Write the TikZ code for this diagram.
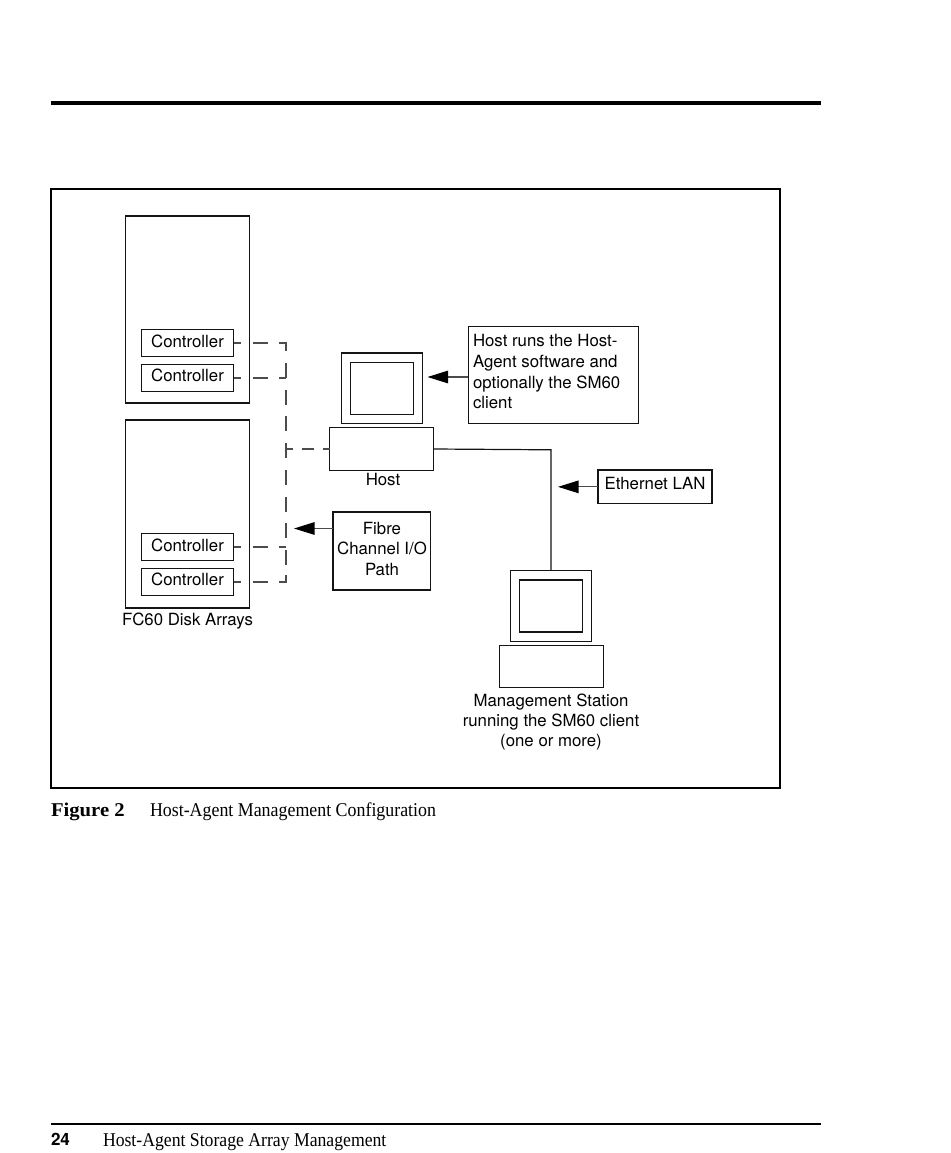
\documentclass[tikz,border=0pt]{standalone}
\usepackage{fontspec}
\usepackage{graphicx}
\setmainfont{TeX Gyre Heros}
\newfontfamily\capfont{Liberation Serif}
\usetikzlibrary{arrows.meta}
\definecolor{ink}{gray}{0.08}
\definecolor{softink}{gray}{0.3}
\tikzset{
  x=1pt,y=-1pt,
  boxed/.style={draw=ink,line width=1.2pt,fill=none,inner sep=0pt,outer sep=0pt,font=\fontsize{16.8}{20.5}\selectfont},
  voff/.style={text height=12pt,text depth=#1},
  lbl/.style={inner sep=0pt,outer sep=0pt,anchor=base,font=\fontsize{16.8}{20.5}\selectfont},
  ctrlbox/.style={boxed,minimum width=92.4pt,minimum height=27.5pt},
  arraybox/.style={boxed,minimum width=124pt},
  monouter/.style={boxed,minimum width=81pt,minimum height=70.6pt},
  moninner/.style={boxed,minimum width=63.2pt,minimum height=52pt},
  basebox/.style={boxed,minimum width=104pt,minimum height=42.3pt},
  fcpath/.style={draw=softink,line width=1.2pt,dash pattern=on 15pt off 11.7pt,dash phase=7.7pt},
  fcshort/.style={draw=softink,line width=1.2pt,dash pattern=on 12pt off 9pt,dash phase=5pt},
  lan/.style={draw=ink,line width=1.2pt},
  pointer/.style={draw=softink,line width=1.1pt,-{Triangle[length=20.5pt,width=12.5pt,color=black]}},
  caplabel/.style={inner sep=0pt,outer sep=0pt,anchor=base west},
}
\begin{document}
\begin{tikzpicture}
\useasboundingbox (0,0) rectangle (950,1153);
% page rules
\coordinate (r1a) at (51,102.7); \coordinate (r1b) at (821,102.7);
\coordinate (r2a) at (51,1124); \coordinate (r2b) at (821,1124);
\draw[black,line width=4pt] (r1a) -- (r1b);
\draw[black,line width=2.2pt] (r2a) -- (r2b);
% frame
\node[boxed,draw=black,line width=2pt,minimum width=729pt,minimum height=599pt] (frame) at (415.5,488.5) {};
% arrays
\node[arraybox,minimum height=187pt] (a1) at (187.5,309.5) {};
\node[arraybox,minimum height=188pt] (a2) at (187.5,514) {};
\node[ctrlbox,voff=3.2pt] (c1) at (187.5,342.9) {Controller};
\node[ctrlbox,voff=6pt]   (c2) at (187.5,378) {Controller};
\node[ctrlbox,voff=2.6pt] (c3) at (187.5,547) {Controller};
\node[ctrlbox,voff=5.4pt] (c4) at (187.5,582) {Controller};
\node[lbl] (fc60) at (187.5,625.3) {FC60 Disk Arrays};
% host
\node[monouter] (hmon) at (382.2,388.3) {};
\node[moninner] (hscr) at (382,388.3) {};
\node[basebox] (host) at (381.7,449) {};
\node[lbl] (hostl) at (383,485.3) {Host};
% fibre
\node[boxed,minimum width=97.7pt,minimum height=78pt] (fibre) at (381.9,551) {};
\node[lbl] (f1) at (382,534) {Fibre};
\node[lbl] (f2) at (382,554.7) {Channel I/O};
\node[lbl] (f3) at (382,575) {Path};
% callout
\node[boxed,minimum width=170.4pt,minimum height=97pt] (call) at (553.5,374.8) {};
\node[lbl,anchor=base west] (t1) at (473,346.7) {Host runs the Host-};
\node[lbl,anchor=base west] (t2) at (473,367) {Agent software and};
\node[lbl,anchor=base west] (t3) at (473,388) {optionally the SM60};
\node[lbl,anchor=base west] (t4) at (473,408.3) {client};
% ethernet
\node[boxed,minimum width=114pt,minimum height=33.7pt,voff=7.7pt] (eth) at (655,486.85) {Ethernet LAN};
% station
\node[monouter] (smon) at (551.2,606) {};
\node[moninner] (sscr) at (551.2,606) {};
\node[basebox] (sbase) at (551.2,666.7) {};
\node[lbl] (m1) at (551,706) {Management Station};
\node[lbl] (m2) at (551,726) {running the SM60 client};
\node[lbl] (m3) at (551,746.7) {(one or more)};
% fibre channel bus
\coordinate (bus) at (286,0);
\coordinate (busend) at (286,568);
\coordinate (buslow) at (286,575);
\draw[fcpath] (c1.east) -- (c1.east -| bus) -- (busend);
\draw[fcpath] (c2.east) -- (c2.east -| bus);
\draw[fcpath] (c3.east) -- (c3.east -| bus);
\draw[fcpath] (c4.east) -- (c4.east -| bus) -- (buslow);
\draw[fcshort] (host.west) -- (host.west -| bus);
% lan
\coordinate (lanc) at (551,449.8);
\draw[lan] (host.east) -- (lanc) -- (smon.north -| lanc);
% pointers
\coordinate (fa) at (333,528.5); \coordinate (ft) at (294,528.5);
\coordinate (ca) at (468.3,377); \coordinate (ct) at (427.5,377);
\coordinate (et) at (558,486.85);
\draw[pointer] (fa) -- (ft);
\draw[pointer] (ca) -- (ct);
\draw[pointer] (eth.west) -- (et);
% caption and footer
\node[caplabel] (figno) at (51,816.2) {\capfont\fontsize{19.5}{22}\bfseries\selectfont\scalebox{1.06}[1]{Figure 2}};
\node[caplabel] (figt) at (150,816.2) {\capfont\fontsize{19.5}{22}\selectfont\scalebox{0.917}[1]{Host-Agent Management Configuration}};
\node[caplabel] (pg) at (51,1145.5) {\fontsize{17}{20}\bfseries\selectfont 24};
\node[caplabel] (pgt) at (103,1146.2) {\capfont\fontsize{19.5}{22}\selectfont\scalebox{0.907}[1]{Host-Agent Storage Array Management}};
\end{tikzpicture}
\end{document}
